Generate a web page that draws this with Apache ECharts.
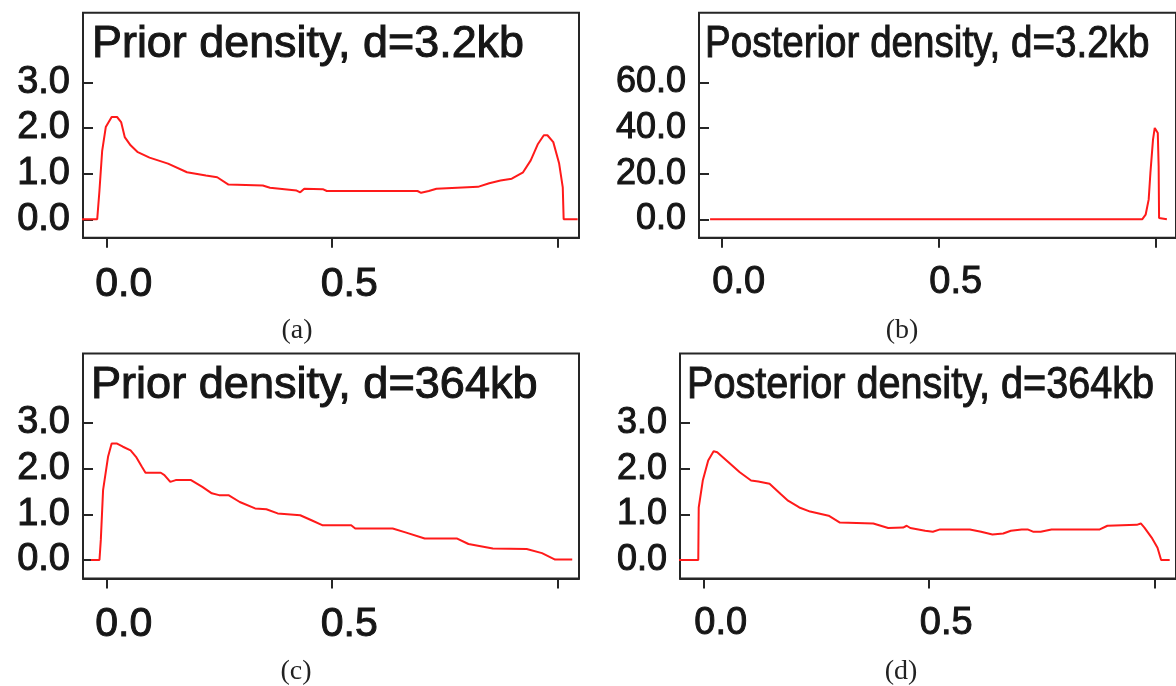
<!DOCTYPE html>
<html>
<head>
<meta charset="utf-8">
<script src="https://cdn.jsdelivr.net/npm/echarts@6/dist/echarts.min.js"></script>
<style>
  html, body { margin: 0; padding: 0; background: #fff; }
  #main { width: 1176px; height: 686px; }
</style>
</head>
<body>
<div id="main"></div>
<script>
// panel (a): prior, d=3.2kb
var priorShortX = [-0.069, -0.021, -0.016, -0.010, -0.002, 0.011, 0.023, 0.032, 0.040, 0.053, 0.069, 0.095, 0.136, 0.178, 0.220, 0.245, 0.270, 0.346, 0.362, 0.421, 0.429, 0.438, 0.479, 0.488, 0.597, 0.689, 0.697, 0.714, 0.731, 0.823, 0.848, 0.873, 0.898, 0.923, 0.940, 0.956, 0.969, 0.977, 0.990, 1.003, 1.011, 1.013, 1.044];
var priorShortY = [0, 0, 0.63, 1.50, 2.02, 2.24, 2.24, 2.13, 1.80, 1.62, 1.47, 1.35, 1.22, 1.03, 0.96, 0.92, 0.76, 0.74, 0.69, 0.63, 0.59, 0.67, 0.66, 0.62, 0.62, 0.62, 0.58, 0.62, 0.67, 0.71, 0.79, 0.85, 0.89, 1.03, 1.29, 1.65, 1.84, 1.84, 1.69, 1.22, 0.70, 0, 0];

// panel (b): posterior, d=3.2kb
var postShortX = [-0.027, 0.969, 0.977, 0.984, 0.988, 0.994, 0.998, 1.002, 1.005, 1.007, 1.008, 1.011, 1.026];
var postShortY = [0, 0, 2.0, 8.6, 20.3, 34.9, 40.0, 40.7, 37.8, 23.2, 0.6, 0, 0];

// panel (c): prior, d=364kb
var priorLongX = [-0.035, -0.016, -0.013, -0.008, 0.003, 0.011, 0.023, 0.036, 0.053, 0.065, 0.078, 0.086, 0.120, 0.128, 0.141, 0.153, 0.187, 0.212, 0.233, 0.249, 0.270, 0.295, 0.329, 0.354, 0.379, 0.429, 0.454, 0.479, 0.542, 0.551, 0.634, 0.664, 0.705, 0.777, 0.802, 0.856, 0.931, 0.965, 0.994, 1.032];
var priorLongY = [0, 0, 0.44, 1.53, 2.26, 2.55, 2.55, 2.48, 2.40, 2.26, 2.04, 1.91, 1.91, 1.86, 1.71, 1.75, 1.75, 1.60, 1.46, 1.42, 1.42, 1.27, 1.13, 1.11, 1.02, 0.98, 0.87, 0.76, 0.76, 0.69, 0.69, 0.60, 0.47, 0.47, 0.35, 0.25, 0.24, 0.15, 0.01, 0.01];

// panel (d): posterior, d=364kb
var postLongX = [-0.060, -0.012, -0.011, -0.002, 0.010, 0.022, 0.030, 0.055, 0.080, 0.105, 0.121, 0.146, 0.170, 0.187, 0.212, 0.236, 0.277, 0.302, 0.376, 0.409, 0.442, 0.450, 0.458, 0.491, 0.508, 0.524, 0.590, 0.615, 0.640, 0.664, 0.681, 0.705, 0.718, 0.730, 0.747, 0.771, 0.878, 0.895, 0.960, 0.969, 0.977, 0.993, 1.006, 1.014, 1.033];
var postLongY = [0, 0, 1.15, 1.74, 2.18, 2.38, 2.36, 2.14, 1.92, 1.74, 1.72, 1.67, 1.45, 1.30, 1.15, 1.06, 0.97, 0.82, 0.80, 0.70, 0.71, 0.75, 0.70, 0.64, 0.62, 0.67, 0.67, 0.62, 0.56, 0.58, 0.64, 0.67, 0.67, 0.62, 0.62, 0.67, 0.67, 0.75, 0.77, 0.80, 0.71, 0.49, 0.27, 0, 0];

var titles = ['Prior density, d=3.2kb', 'Posterior density, d=3.2kb', 'Prior density, d=364kb', 'Posterior density, d=364kb'];
var captions = ['(a)', '(b)', '(c)', '(d)'];
var xTicks = [0, 0.5, 1.0];
var xLabels = [0, 0.5];
var yTicksSmall = [0, 1, 2, 3];
var yTicksBig = [0, 20, 40, 60];

function zip(xs, ys) {
  return xs.map(function (x, i) { return [x, ys[i]]; });
}

var ink = '#161616';
var frame = '#262626';

// layout per panel: frame box, y range, font sizes, title squeeze
var panels = [
  { left: 83,  top: 12.7,  width: 496, yMin: -0.403, yMax: 4.524, yTicks: yTicksSmall, data: zip(priorShortX, priorShortY), sx: 1.02,  lf: 38, xf: 41, tx: 92,  cx: 297 },
  { left: 699, top: 12.7,  width: 484, yMin: -8.06,  yMax: 90.48, yTicks: yTicksBig,   data: zip(postShortX, postShortY),   sx: 0.877, lf: 36, xf: 38, tx: 705, cx: 902 },
  { left: 83,  top: 353.4, width: 496, yMin: -0.403, yMax: 4.524, yTicks: yTicksSmall, data: zip(priorLongX, priorLongY),   sx: 1.025, lf: 38, xf: 41, tx: 91,  cx: 296 },
  { left: 680, top: 353.4, width: 503, yMin: -0.403, yMax: 4.524, yTicks: yTicksSmall, data: zip(postLongX, postLongY),     sx: 0.90,  lf: 36, xf: 38, tx: 687, cx: 901 }
];

var grids = [], xAxes = [], yAxes = [], series = [], graphics = [];
panels.forEach(function (p, i) {
  grids.push({
    left: p.left, top: p.top, width: p.width, height: 225,
    show: true, borderColor: frame, borderWidth: 2, backgroundColor: 'transparent'
  });
  xAxes.push({
    type: 'value', gridIndex: i, min: -0.0525, max: 1.047,
    splitLine: { show: false },
    axisLine: { show: true, onZero: false, lineStyle: { color: frame, width: 2 } },
    axisTick: { show: true, length: 10, customValues: xTicks, lineStyle: { color: frame, width: 2 } },
    axisLabel: {
      show: true, customValues: xLabels, margin: 26,
      padding: [0, 0, 0, 34],
      fontFamily: 'Liberation Sans', fontSize: p.xf, color: ink,
      textBorderColor: ink, textBorderWidth: 1,
      formatter: function (v) { return v.toFixed(1); }
    }
  });
  // y axis shifted 10px into the frame so its outward ticks point inside the box
  yAxes.push({
    type: 'value', gridIndex: i, min: p.yMin, max: p.yMax,
    position: 'left', offset: -10,
    splitLine: { show: false },
    axisLine: { show: true, onZero: false, lineStyle: { color: 'rgba(0,0,0,0)', width: 2 } },
    axisTick: { show: true, length: 10, customValues: p.yTicks, lineStyle: { color: frame, width: 2, opacity: 1 } },
    axisLabel: {
      show: true, customValues: p.yTicks, margin: 23,
      fontFamily: 'Liberation Sans', fontSize: p.lf, color: ink,
      textBorderColor: ink, textBorderWidth: 1,
      formatter: function (v) { return v.toFixed(1); }
    }
  });
  series.push({
    type: 'line', xAxisIndex: i, yAxisIndex: i,
    data: p.data, showSymbol: false, symbol: 'none', clip: false,
    lineStyle: { color: '#ff1a1a', width: 2 }
  });
  // panel title sits inside the frame
  graphics.push({
    type: 'text', x: p.tx, y: p.top + 54, scaleX: p.sx,
    style: {
      text: titles[i], font: '44px "Liberation Sans"', fill: ink,
      stroke: ink, lineWidth: 1, verticalAlign: 'bottom'
    }
  });
  graphics.push({
    type: 'text', x: p.cx, y: p.top + 318,
    style: { text: captions[i], font: '28px "Liberation Serif"', fill: '#222', align: 'center', verticalAlign: 'middle' }
  });
});

var chart = echarts.init(document.getElementById('main'));
chart.setOption({
  animation: false,
  backgroundColor: '#fff',
  grid: grids,
  xAxis: xAxes,
  yAxis: yAxes,
  series: series,
  graphic: graphics
});
</script>
</body>
</html>
